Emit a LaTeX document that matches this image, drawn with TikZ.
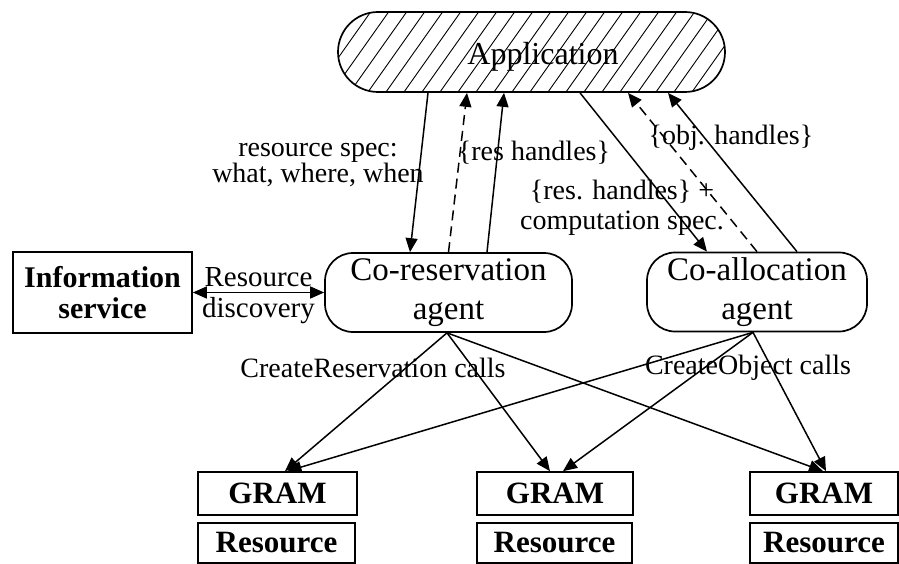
\documentclass[tikz,border=0pt]{standalone}
\usepackage{fontspec}
\setmainfont{Liberation Serif}
\usetikzlibrary{arrows.meta,calc}

\begin{document}
\begin{tikzpicture}[x=1pt,y=-1pt,
  box/.style={draw, line width=1.7pt, inner sep=0pt, align=center},
  agent/.style={box, rounded corners=28pt, minimum height=79pt,
    font=\fontsize{33}{39}\selectfont},
  plainbox/.style={box, font=\bfseries\fontsize{31}{36}\selectfont},
  lbl/.style={inner sep=0pt, align=center, font=\fontsize{27}{28}\selectfont},
  conn/.style={line width=1.5pt, -{Triangle[length=14pt,width=12pt]}},
  dconn/.style={conn, dash pattern=on 10pt off 6pt},
  hatch/.style={path picture={
    \foreach \k in {0,...,26}
      \draw[line width=0.9pt] ([xshift={\k*18pt-60pt}]path picture bounding box.south west) -- ++(58pt,82pt);
  }}
]
\useasboundingbox (0,0) rectangle (899,564);

% top application
\node[box, hatch, rounded corners=40pt, minimum width=387pt, minimum height=80pt] (app) at (531.5,52) {};
\node[inner sep=0pt, font=\fontsize{32}{38}\selectfont] (apptext) at (543,57) {Application};

% agents
\node[agent, minimum width=247pt] (cores) at (448.5,292.5) {Co-reservation\\agent};
\node[agent, minimum width=220pt] (coal) at (757,292) {Co-allocation\\agent};

% information service
\node[plainbox, minimum width=179pt, minimum height=81pt,
  font=\bfseries\fontsize{30}{31}\selectfont] (info) at (102.5,292.5) {Information\\service};

% GRAM / resource pairs
\node[plainbox, minimum width=159pt, minimum height=43pt] (g1) at (277.5,493.5) {GRAM};
\node[plainbox, minimum width=157pt, minimum height=40pt] (r1) at (276.5,543) {Resource};
\node[plainbox, minimum width=156pt, minimum height=43pt] (g2) at (555,493.5) {GRAM};
\node[plainbox, minimum width=155pt, minimum height=40pt] (r2) at (554.5,543) {Resource};
\node[plainbox, minimum width=148pt, minimum height=43pt] (g3) at (824,493.5) {GRAM};
\node[plainbox, minimum width=148pt, minimum height=40pt] (r3) at (824,543) {Resource};

% application <-> co-reservation
\draw[conn] ([xshift=-103.5pt]app.south) -- ([xshift=-38.5pt]cores.north);
\draw[dconn] (cores.north) -- ([xshift=-64.5pt]app.south);
\draw[conn] ([xshift=38.5pt]cores.north) -- ([xshift=-27.5pt]app.south);

% application <-> co-allocation
\draw[conn] ([xshift=48.5pt]app.south) -- ([xshift=-50pt]coal.north);
\draw[dconn] (coal.north) -- ([xshift=96.5pt]app.south);
\draw[conn] ([xshift=40pt]coal.north) -- ([xshift=136.5pt]app.south);

% resource discovery
\draw[line width=1.5pt, {Triangle[length=14pt,width=12pt]}-{Triangle[length=14pt,width=12pt]}]
  (info.east) -- (cores.west)
  node[lbl, midway, above=5pt, font=\fontsize{29}{30}\selectfont] (rd1) {Resource}
  node[lbl, midway, below=4pt, font=\fontsize{29}{30}\selectfont] (rd2) {discovery};

% co-reservation -> GRAMs
\draw[conn] ([xshift=-1.5pt]cores.south) -- ([xshift=7.5pt]g1.north);
\draw[conn] ([xshift=-1.5pt]cores.south) -- ([xshift=-5pt]g2.north);
\draw[conn] ([xshift=-1.5pt]cores.south) -- ([xshift=-1pt]g3.north);

% co-allocation -> GRAMs
\draw[conn] ([xshift=-4pt]coal.south) -- ([xshift=10pt]g1.north);
\draw[conn] ([xshift=-4pt]coal.south) -- ([xshift=8pt]g2.north);
\draw[conn] ([xshift=-4pt]coal.south) -- ([xshift=2pt]g3.north);

% labels
\node[lbl, font=\fontsize{28}{25}\selectfont] (spec) at (318,165) {resource spec:\\what, where, when};
\node[lbl, font=\fontsize{28}{30}\selectfont] (rh) at (534,153) {\{res handles\}};
\node[lbl, font=\fontsize{28}{30}\selectfont] (oh) at (731,138) {\{obj. handles\}};
\node[lbl, font=\fontsize{28}{30}\selectfont] (cs) at (622,208) {\{res. handles\} +\\computation spec.};
\node[lbl, font=\fontsize{28}{30}\selectfont] (crc) at (373,368) {CreateReservation calls};
\node[lbl, font=\fontsize{28}{30}\selectfont] (coc) at (748,368) {CreateObject calls};
\end{tikzpicture}
\end{document}
